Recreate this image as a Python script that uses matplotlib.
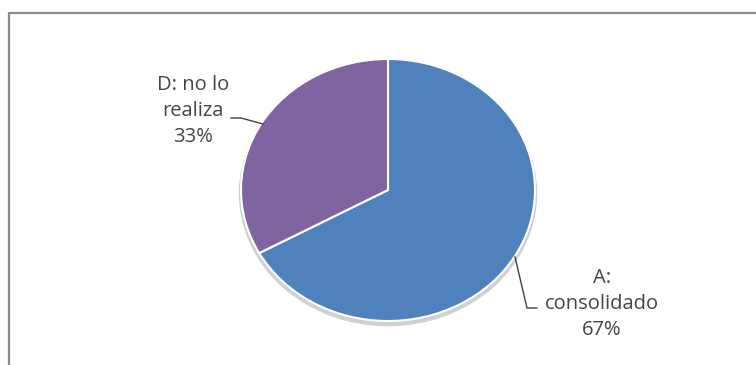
import matplotlib
matplotlib.use("Agg")
import matplotlib.pyplot as plt
from matplotlib.patches import Rectangle, Ellipse

labels = ["A:\nconsolidado", "D: no lo\nrealiza"]
values = [67, 33]
colors = ["#4F81BD", "#8064A2"]

W, H = 756, 365
fig = plt.figure(figsize=(W / 100, H / 100), dpi=100)
fig.patch.set_facecolor("white")

# outer chart frame
fig.patches.append(Rectangle((9 / W, -0.05), 1.2, 1 - 13 / H + 0.05, transform=fig.transFigure,
                             fill=False, edgecolor="#8c8c8c", linewidth=1.6))

ax = fig.add_axes([0, 0, 1, 1])
cx, cy, rx, ry = 388, 190, 147, 131


def px(x, y):
    return (x - cx) / rx, (H - y - (H - cy)) / ry


# soft shadow
ax.add_patch(Ellipse((0, -0.025), 2.03, 2.03, facecolor="#d0d0d0", edgecolor="none", zorder=0))

ax.pie(values, colors=colors, startangle=90, counterclock=False, radius=1,
       wedgeprops=dict(edgecolor="white", linewidth=1.5))
ax.set_aspect("auto")
ax.set_xlim(-cx / rx, (W - cx) / rx)
ax.set_ylim(-(H - cy) / ry, cy / ry)
ax.axis("off")

font = dict(family=["Open Sans", "DejaVu Sans"], fontsize=14.5, color="#454545",
            ha="center", va="center", linespacing=1.4)

ax.text(*px(193, 111), labels[1] + "\n" + f"{values[1]}%", **font)
ax.text(*px(602, 304), labels[0] + "\n" + f"{values[0]}%", **font)

# leader lines
lx, ly = zip(*[px(231, 118), px(241, 118), px(263, 124)])
ax.plot(lx, ly, color="#404040", lw=1)
lx, ly = zip(*[px(515, 257), px(527, 308), px(537, 308)])
ax.plot(lx, ly, color="#404040", lw=1)

fig.savefig("out.png", dpi=100, facecolor="white")
